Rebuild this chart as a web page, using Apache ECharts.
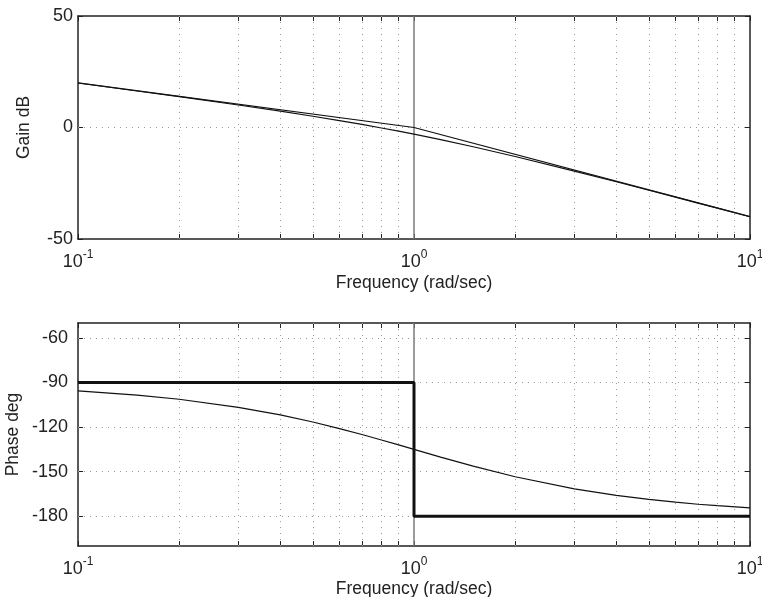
<!DOCTYPE html>
<html>
<head>
<meta charset="utf-8">
<script src="https://cdn.jsdelivr.net/npm/echarts@6/dist/echarts.min.js"></script>
<style>
  html, body { margin: 0; padding: 0; background: #fff; }
  #chart { width: 762px; height: 597px; }
</style>
</head>
<body>
<div id="chart"></div>
<script>
// Bode diagram of an integrator with a first-order lag: exact curves and straight-line asymptotes.
const freq = [0.1, 0.15, 0.2, 0.3, 0.4, 0.5, 0.6, 0.7, 0.8, 0.9, 1, 1.2, 1.5, 2, 3, 4, 5, 6, 7, 8, 10];
const gainExact = [19.96, 16.38, 13.81, 10.08, 7.31, 5.05, 3.10, 1.37, -0.21, -1.66, -3.01, -5.45, -8.64, -13.01, -19.54, -24.34, -28.13, -31.24, -33.89, -36.19, -40.04];
const phaseExact = [-95.7, -98.5, -101.3, -106.7, -111.8, -116.6, -121.0, -125.0, -128.7, -132.0, -135.0, -140.2, -146.3, -153.4, -161.6, -166.0, -168.7, -170.5, -171.9, -172.9, -174.3];

const gainAsymFreq = [0.1, 1, 10];
const gainAsym = [20, 0, -40];
const phaseAsymFreq = [0.1, 1, 1, 10];
const phaseAsym = [-90, -90, -180, -180];

// Axis ranges and tick values
const freqRange = [0.1, 10];
const gainRange = [-50, 50];
const gainTicks = [-50, 0, 50];
const phaseRange = [-200, -50];
const phaseTicks = [-180, -150, -120, -90, -60];
const decadeTicks = [0.1, 1, 10];
const minorFreq = [0.2, 0.3, 0.4, 0.5, 0.6, 0.7, 0.8, 0.9, 2, 3, 4, 5, 6, 7, 8, 9];
const allFreqTicks = [0.1].concat(minorFreq.slice(0, 8), [1], minorFreq.slice(8), [10]);

const FONT = '"Liberation Sans", Arial, Helvetica, sans-serif';
const INK = '#222';

const zip = (xs, ys) => xs.map((x, i) => [x, ys[i]]);

function decadeLabel(v) {
  const e = Math.round(Math.log10(v));
  return '{b|10}{s|' + e + '}';
}

function xAxisPair(gridIndex, nameGap) {
  return [
    {
      type: 'log', logBase: 10, gridIndex,
      min: freqRange[0], max: freqRange[1],
      name: 'Frequency (rad/sec)', nameLocation: 'middle', nameGap, nameMoveOverlap: false,
      nameTextStyle: { fontFamily: FONT, fontSize: 17.5, color: INK },
      axisLine: { show: true, onZero: false, lineStyle: { color: INK, width: 1.5 } },
      axisTick: { show: true, inside: true, length: 5, customValues: allFreqTicks, lineStyle: { color: INK } },
      axisLabel: {
        show: true, margin: 10, customValues: decadeTicks, formatter: decadeLabel,
        rich: {
          b: { fontFamily: FONT, fontSize: 18, color: INK, lineHeight: 22, verticalAlign: 'bottom' },
          s: { fontFamily: FONT, fontSize: 12, color: INK, lineHeight: 10, verticalAlign: 'top' }
        }
      },
      splitLine: { show: false }, minorTick: { show: false }
    },
    {
      type: 'log', logBase: 10, gridIndex, position: 'top',
      min: freqRange[0], max: freqRange[1],
      axisLine: { show: true, onZero: false, lineStyle: { color: INK, width: 1.5 } },
      axisTick: { show: true, inside: true, length: 5, customValues: allFreqTicks, lineStyle: { color: INK } },
      axisLabel: { show: false }, splitLine: { show: false }
    }
  ];
}

function yAxisPair(gridIndex, range, ticks, name, nameGap, labelMargin) {
  const base = {
    type: 'value', gridIndex, min: range[0], max: range[1], interval: 10,
    axisLine: { show: true, onZero: false, lineStyle: { color: INK, width: 1.5 } },
    splitLine: { show: false }
  };
  return [
    Object.assign({}, base, {
      position: 'left',
      name, nameLocation: 'middle', nameGap, nameMoveOverlap: false,
      nameTextStyle: { fontFamily: FONT, fontSize: 17.5, color: INK },
      axisTick: { show: true, inside: true, length: 5, customValues: ticks, lineStyle: { color: INK } },
      axisLabel: { show: true, margin: labelMargin, customValues: ticks, fontFamily: FONT, fontSize: 18, color: INK }
    }),
    Object.assign({}, base, {
      position: 'right',
      axisTick: { show: true, inside: true, length: 5, customValues: ticks, lineStyle: { color: INK } },
      axisLabel: { show: false }
    })
  ];
}

// Dotted grid: vertical lines at every log tick, horizontal lines at labelled values,
// plus a solid marker at the corner frequency. Kept in its own series beneath the curves.
function gridSeries(xi, yi, hValues) {
  const dotted = { color: '#9a9a9a', width: 1, type: [1, 5] };
  const data = minorFreq.map(v => ({ xAxis: v, lineStyle: dotted }))
    .concat(hValues.map(v => ({ yAxis: v, lineStyle: dotted })))
    .concat([{ xAxis: 1, lineStyle: { color: '#7a7a7a', width: 1.5, type: 'solid' } }]);
  return {
    type: 'line', xAxisIndex: xi, yAxisIndex: yi, data: [], z: 1,
    animation: false, silent: true,
    markLine: {
      silent: true, symbol: 'none', animation: false, z: 1,
      label: { show: false }, emphasis: { disabled: true },
      data
    }
  };
}

function curve(xi, yi, data, width, z) {
  return {
    type: 'line', xAxisIndex: xi, yAxisIndex: yi, data,
    showSymbol: false, symbol: 'none', smooth: false, animation: false, z,
    lineStyle: { color: '#111', width },
    emphasis: { disabled: true }
  };
}

const chart = echarts.init(document.getElementById('chart'), null, { renderer: 'canvas' });
chart.setOption({
  backgroundColor: '#fff',
  animation: false,
  grid: [
    { left: 78, right: 12, top: 16, height: 223, containLabel: false, outerBoundsMode: 'none' },
    { left: 78, right: 12, top: 323, height: 223, containLabel: false, outerBoundsMode: 'none' }
  ],
  xAxis: xAxisPair(0, 35).concat(xAxisPair(1, 34)),
  yAxis: yAxisPair(0, gainRange, gainTicks, 'Gain dB', 45, 5)
    .concat(yAxisPair(1, phaseRange, phaseTicks, 'Phase deg', 56, 10)),
  series: [
    gridSeries(0, 0, [0]),
    gridSeries(2, 2, phaseTicks),
    curve(0, 0, zip(freq, gainExact), 1.2, 5),
    curve(0, 0, zip(gainAsymFreq, gainAsym), 1.2, 5),
    curve(2, 2, zip(freq, phaseExact), 1.2, 5),
    curve(2, 2, zip(phaseAsymFreq, phaseAsym), 3, 6)
  ]
});
</script>
</body>
</html>
